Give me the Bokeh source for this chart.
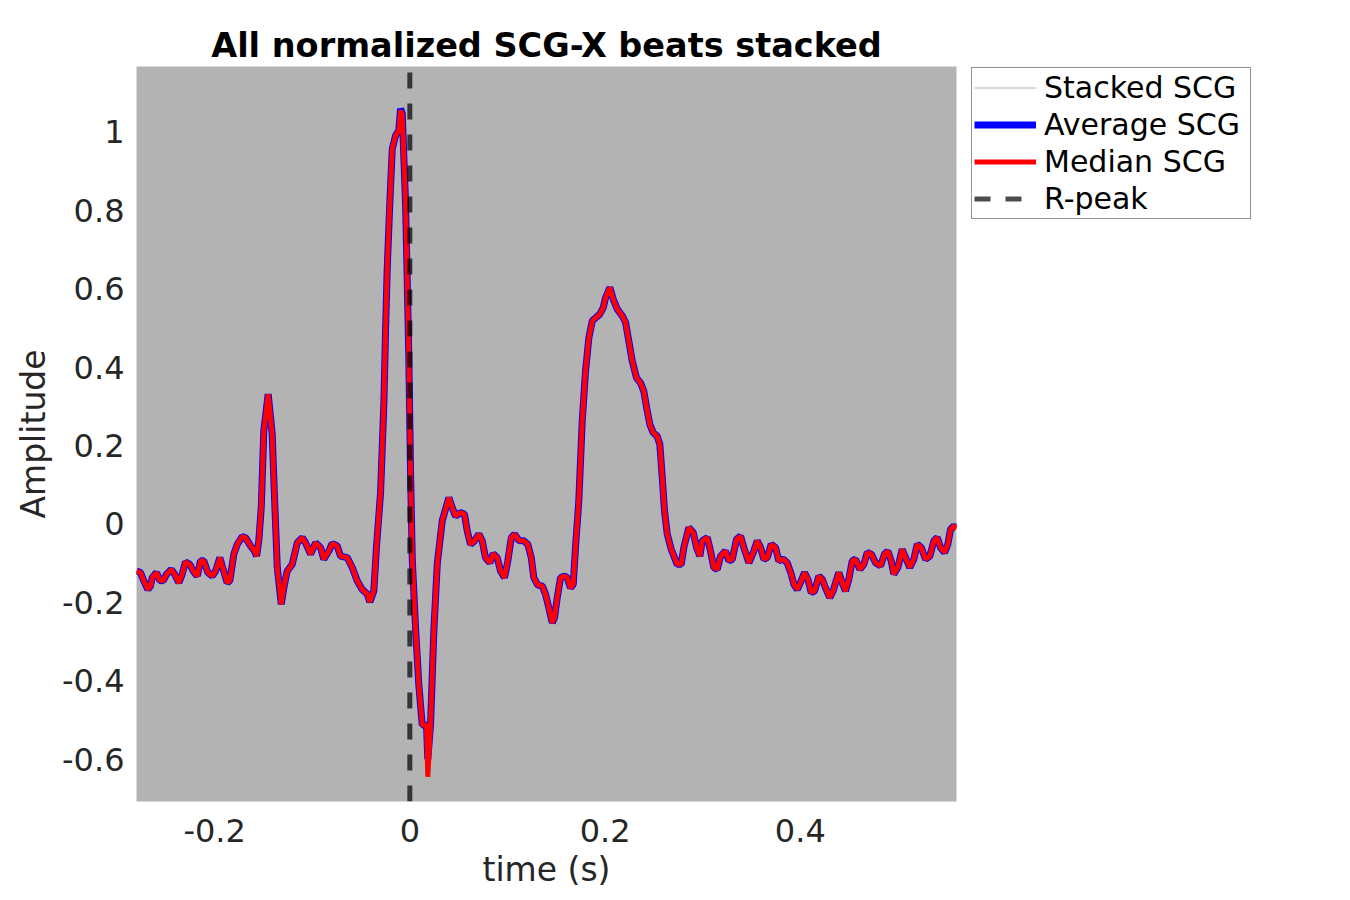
from bokeh.plotting import figure
from bokeh.models import Legend, LegendItem, FixedTicker, Range1d
from bokeh.embed import file_html
from bokeh.resources import INLINE

# ---- data ----
time_s = [
    -0.2800, -0.2759, -0.2725, -0.2684, -0.2656, -0.2639, -0.2595, -0.2561, -0.2526, -0.2492,
    -0.2444, -0.2410, -0.2366, -0.2332, -0.2298, -0.2254, -0.2219, -0.2178, -0.2144, -0.2110,
    -0.2069, -0.2024, -0.1990, -0.1946, -0.1922, -0.1871, -0.1844, -0.1803, -0.1768, -0.1717,
    -0.1683, -0.1632, -0.1591, -0.1570, -0.1547, -0.1522, -0.1496, -0.1451, -0.1410, -0.1386,
    -0.1358, -0.1317, -0.1291, -0.1256, -0.1205, -0.1153, -0.1102, -0.1068, -0.1017, -0.0966,
    -0.0915, -0.0881, -0.0830, -0.0795, -0.0744, -0.0710, -0.0641, -0.0590, -0.0539, -0.0488,
    -0.0436, -0.0410, -0.0369, -0.0341, -0.0300, -0.0266, -0.0249, -0.0232, -0.0205, -0.0180,
    -0.0146, -0.0113, -0.0095, -0.0078, -0.0061, -0.0044, -0.0027, -0.0010, 0.0007, 0.0025,
    0.0058, 0.0092, 0.0127, 0.0171, 0.0184, 0.0212, 0.0246, 0.0281, 0.0332, 0.0400,
    0.0434, 0.0468, 0.0519, 0.0560, 0.0588, 0.0622, 0.0663, 0.0707, 0.0742, 0.0775,
    0.0820, 0.0854, 0.0895, 0.0929, 0.0970, 0.1004, 0.1039, 0.1073, 0.1117, 0.1168,
    0.1209, 0.1244, 0.1270, 0.1311, 0.1356, 0.1390, 0.1424, 0.1459, 0.1482, 0.1510,
    0.1544, 0.1585, 0.1612, 0.1646, 0.1674, 0.1697, 0.1731, 0.1766, 0.1800, 0.1834,
    0.1869, 0.1913, 0.1946, 0.1981, 0.2005, 0.2049, 0.2084, 0.2125, 0.2176, 0.2210,
    0.2243, 0.2278, 0.2322, 0.2363, 0.2397, 0.2425, 0.2459, 0.2493, 0.2534, 0.2561,
    0.2586, 0.2609, 0.2637, 0.2678, 0.2739, 0.2780, 0.2807, 0.2858, 0.2903, 0.2937,
    0.2971, 0.2995, 0.3047, 0.3080, 0.3114, 0.3149, 0.3183, 0.3234, 0.3268, 0.3303,
    0.3347, 0.3388, 0.3421, 0.3473, 0.3518, 0.3559, 0.3593, 0.3626, 0.3661, 0.3702,
    0.3746, 0.3780, 0.3825, 0.3866, 0.3907, 0.3934, 0.3969, 0.4010, 0.4043, 0.4077,
    0.4112, 0.4146, 0.4190, 0.4225, 0.4258, 0.4302, 0.4337, 0.4361, 0.4395, 0.4429,
    0.4463, 0.4497, 0.4532, 0.4566, 0.4610, 0.4651, 0.4686, 0.4727, 0.4771, 0.4822,
    0.4863, 0.4897, 0.4931, 0.4958, 0.4999, 0.5044, 0.5078, 0.5122, 0.5163, 0.5198,
    0.5239, 0.5283, 0.5327, 0.5368, 0.5403, 0.5436, 0.5477, 0.5511, 0.5539, 0.5573,
    0.5600,
]

average_scg = [
    -0.120, -0.124, -0.145, -0.167, -0.158, -0.137, -0.124, -0.144, -0.145, -0.128,
    -0.116, -0.128, -0.150, -0.128, -0.097, -0.103, -0.120, -0.133, -0.094, -0.094,
    -0.124, -0.133, -0.120, -0.086, -0.107, -0.150, -0.145, -0.077, -0.052, -0.032,
    -0.035, -0.056, -0.069, -0.082, -0.043, 0.042, 0.237, 0.331, 0.229, 0.067,
    -0.111, -0.205, -0.163, -0.120, -0.103, -0.048, -0.035, -0.048, -0.077, -0.048,
    -0.060, -0.090, -0.069, -0.050, -0.056, -0.082, -0.086, -0.111, -0.145, -0.167,
    -0.179, -0.199, -0.171, -0.056, 0.079, 0.307, 0.490, 0.649, 0.820, 0.957,
    0.991, 1.003, 1.059, 1.048, 0.934, 0.820, 0.626, 0.421, 0.136, -0.091,
    -0.262, -0.410, -0.513, -0.513, -0.600, -0.513, -0.273, -0.102, 0.008, 0.067,
    0.042, 0.020, 0.029, 0.025, -0.018, -0.052, -0.043, -0.026, -0.043, -0.086,
    -0.099, -0.076, -0.086, -0.120, -0.137, -0.094, -0.035, -0.026, -0.042, -0.043,
    -0.052, -0.086, -0.137, -0.156, -0.158, -0.179, -0.214, -0.252, -0.239, -0.188,
    -0.137, -0.133, -0.137, -0.163, -0.154, -0.060, 0.059, 0.263, 0.390, 0.475,
    0.518, 0.528, 0.535, 0.552, 0.577, 0.603, 0.573, 0.548, 0.531, 0.514,
    0.467, 0.416, 0.373, 0.360, 0.339, 0.297, 0.254, 0.233, 0.224, 0.203,
    0.118, 0.033, -0.026, -0.065, -0.103, -0.103, -0.060, -0.009, -0.022, -0.060,
    -0.082, -0.043, -0.035, -0.069, -0.111, -0.116, -0.082, -0.069, -0.094, -0.090,
    -0.039, -0.031, -0.060, -0.099, -0.073, -0.043, -0.060, -0.090, -0.086, -0.052,
    -0.060, -0.094, -0.090, -0.099, -0.128, -0.154, -0.167, -0.145, -0.124, -0.141,
    -0.175, -0.171, -0.133, -0.141, -0.163, -0.188, -0.171, -0.150, -0.124, -0.150,
    -0.171, -0.141, -0.094, -0.090, -0.116, -0.103, -0.073, -0.077, -0.099, -0.107,
    -0.077, -0.069, -0.094, -0.128, -0.111, -0.065, -0.086, -0.111, -0.090, -0.052,
    -0.060, -0.090, -0.082, -0.043, -0.035, -0.060, -0.073, -0.052, -0.014, -0.005,
    -0.011,
]

median_scg = [
    -0.120, -0.124, -0.145, -0.167, -0.158, -0.137, -0.124, -0.144, -0.145, -0.128,
    -0.116, -0.128, -0.150, -0.128, -0.097, -0.103, -0.120, -0.133, -0.094, -0.094,
    -0.124, -0.133, -0.120, -0.086, -0.107, -0.150, -0.145, -0.077, -0.052, -0.032,
    -0.035, -0.056, -0.069, -0.082, -0.043, 0.042, 0.237, 0.331, 0.229, 0.067,
    -0.111, -0.205, -0.163, -0.120, -0.103, -0.048, -0.035, -0.048, -0.077, -0.048,
    -0.060, -0.090, -0.069, -0.050, -0.056, -0.082, -0.086, -0.111, -0.145, -0.167,
    -0.179, -0.199, -0.171, -0.056, 0.079, 0.307, 0.490, 0.649, 0.820, 0.957,
    0.991, 1.003, 1.055, 1.044, 0.934, 0.820, 0.626, 0.421, 0.136, -0.091,
    -0.262, -0.410, -0.513, -0.513, -0.645, -0.513, -0.273, -0.102, 0.008, 0.067,
    0.042, 0.020, 0.029, 0.025, -0.018, -0.052, -0.043, -0.026, -0.043, -0.086,
    -0.099, -0.076, -0.086, -0.120, -0.137, -0.094, -0.035, -0.026, -0.042, -0.043,
    -0.052, -0.086, -0.137, -0.156, -0.158, -0.179, -0.214, -0.252, -0.239, -0.188,
    -0.137, -0.133, -0.137, -0.163, -0.154, -0.060, 0.059, 0.263, 0.390, 0.475,
    0.518, 0.528, 0.535, 0.552, 0.577, 0.603, 0.573, 0.548, 0.531, 0.514,
    0.467, 0.416, 0.373, 0.360, 0.339, 0.297, 0.254, 0.233, 0.224, 0.203,
    0.118, 0.033, -0.026, -0.065, -0.103, -0.103, -0.060, -0.009, -0.022, -0.060,
    -0.082, -0.043, -0.035, -0.069, -0.111, -0.116, -0.082, -0.069, -0.094, -0.090,
    -0.039, -0.031, -0.060, -0.099, -0.073, -0.043, -0.060, -0.090, -0.086, -0.052,
    -0.060, -0.094, -0.090, -0.099, -0.128, -0.154, -0.167, -0.145, -0.124, -0.141,
    -0.175, -0.171, -0.133, -0.141, -0.163, -0.188, -0.171, -0.150, -0.124, -0.150,
    -0.171, -0.141, -0.094, -0.090, -0.116, -0.103, -0.073, -0.077, -0.099, -0.107,
    -0.077, -0.069, -0.094, -0.128, -0.111, -0.065, -0.086, -0.111, -0.090, -0.052,
    -0.060, -0.090, -0.082, -0.043, -0.035, -0.060, -0.073, -0.052, -0.014, -0.005,
    -0.011,
]

stacked_scg = list(average_scg)

r_peak_time = [0.0, 0.0]
r_peak_span = [-0.708, 1.167]

x_limits = [-0.28, 0.56]
y_limits = [-0.708, 1.167]

x_ticks = [-0.2, 0.0, 0.2, 0.4]
x_tick_labels = ["-0.2", "0", "0.2", "0.4"]
y_ticks = [-0.6, -0.4, -0.2, 0.0, 0.2, 0.4, 0.6, 0.8, 1.0]
y_tick_labels = ["-0.6", "-0.4", "-0.2", "0", "0.2", "0.4", "0.6", "0.8", "1"]

legend_labels = ["Stacked SCG", "Average SCG", "Median SCG", "R-peak"]

FONT = "DejaVu Sans"
TXT = "#262626"

p = figure(
    frame_width=820, frame_height=735,
    x_range=Range1d(*x_limits), y_range=Range1d(*y_limits),
    output_backend="svg", toolbar_location=None,
    min_border_left=136, min_border_top=66, min_border_right=20, min_border_bottom=0,
    background_fill_color="#b3b3b3", border_fill_color="white",
)
p.outline_line_color = None
p.grid.visible = False

p.title.text = "All normalized SCG-X beats stacked"
p.title.text_font = FONT
p.title.text_font_size = "33.5px"
p.title.text_font_style = "bold"
p.title.text_color = "black"
p.title.align = "center"
p.title.standoff = 4

for ax in (p.xaxis[0], p.yaxis[0]):
    ax.axis_line_color = None
    ax.major_tick_line_color = None
    ax.minor_tick_line_color = None
    ax.major_tick_out = 0
    ax.major_tick_in = 0
    ax.minor_tick_out = 0
    ax.major_label_text_font = FONT
    ax.major_label_text_font_size = "32px"
    ax.major_label_text_color = TXT
    ax.axis_label_text_font = FONT
    ax.axis_label_text_font_size = "33px"
    ax.axis_label_text_font_style = "normal"
    ax.axis_label_text_color = TXT

p.xaxis[0].ticker = FixedTicker(ticks=x_ticks)
p.xaxis[0].major_label_overrides = dict(zip(x_ticks, x_tick_labels))
p.xaxis[0].axis_label = "time (s)"
p.xaxis[0].major_label_standoff = 17
p.xaxis[0].axis_label_standoff = 5

p.yaxis[0].ticker = FixedTicker(ticks=y_ticks)
p.yaxis[0].major_label_overrides = dict(zip(y_ticks, y_tick_labels))
p.yaxis[0].axis_label = "Amplitude"
p.yaxis[0].major_label_standoff = 12
p.yaxis[0].axis_label_standoff = 6

r_stack = p.line(time_s, stacked_scg, line_color="#b0b0b0", line_width=1)
r_avg = p.line(time_s, average_scg, line_color="#0000ff", line_width=7)
r_med = p.line(time_s, median_scg, line_color="#ff0000", line_width=5)
r_peak = p.line(r_peak_time, r_peak_span, line_color="black", line_alpha=0.7,
                line_width=5, line_dash="16 15")

legend = Legend(
    items=[
        LegendItem(label=legend_labels[0], renderers=[r_stack]),
        LegendItem(label=legend_labels[1], renderers=[r_avg]),
        LegendItem(label=legend_labels[2], renderers=[r_med]),
        LegendItem(label=legend_labels[3], renderers=[r_peak]),
    ],
    location=(15, 582),
    margin=0,
    padding=2,
    spacing=2,
    glyph_width=62,
    glyph_height=35,
    label_height=35,
    label_width=204,
    label_standoff=8,
    label_text_font=FONT,
    label_text_font_size="30px",
    label_text_color="black",
    border_line_color="#262626",
    border_line_width=1,
    background_fill_color="white",
    background_fill_alpha=1.0,
)
p.add_layout(legend, "right")

open("out.html", "w").write(file_html(p, INLINE))
